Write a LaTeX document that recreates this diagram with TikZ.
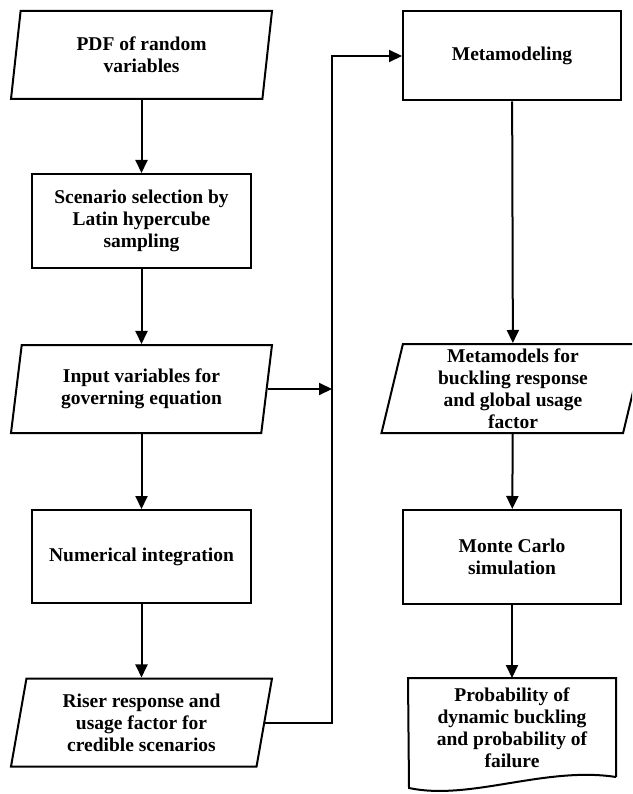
\documentclass[tikz,border=0pt]{standalone}
\usepackage{fontspec}
\setmainfont{Liberation Serif}
\usetikzlibrary{shapes.geometric,arrows.meta}

\begin{document}
\begin{tikzpicture}[x=1pt,y=-1pt,line width=2pt,
	font=\fontsize{19.5}{22}\selectfont\bfseries,
	box/.style={draw, rectangle, minimum width=219pt, minimum height=94pt, align=center, inner sep=0pt},
	io/.style={draw, trapezium, trapezium left angle=75, trapezium right angle=105, trapezium stretches body, minimum width=261pt, minimum height=88pt, align=center, inner sep=0pt},
	arr/.style={arrows={-{Triangle[length=13pt,width=12pt]}}}]
	\clip (0,0) rectangle (632,794);
	\node [io] (pdf) at (141.5,55) {PDF of random\\variables};
	\node [box] (sel) at (141.5,221) {Scenario selection by\\Latin hypercube\\sampling};
	\node [io] (inp) at (141.5,389) {Input variables for\\governing equation};
	\node [box, minimum height=93pt] (num) at (141.5,556.5) {Numerical integration};
	\node [io] (res) at (141.5,722.5) {Riser response and\\usage factor for\\credible scenarios};
	\node [box, minimum width=218pt, minimum height=89pt] (meta) at (512,56) {Metamodeling};
	\node [io, minimum width=263pt, minimum height=89pt] (mm) at (513,388.5) {Metamodels for\\buckling response\\and global usage\\factor};
	\node [box, minimum width=218pt] (mc) at (512,557) {Monte Carlo\\simulation};
	\node [align=center, minimum width=206pt, minimum height=97pt, inner sep=0pt] (prob) at (512,727.5) {Probability of\\dynamic buckling\\and probability of\\failure};
	\draw (prob.south east) -- (prob.north east) -- (prob.north west) -- (409,788) .. controls (470,801) and (545,766) .. (prob.south east);
	\coordinate (bus) at (332,0);
	\draw [arr] (pdf) -- (sel);
	\draw [arr] (sel) -- (inp);
	\draw [arr] (inp) -- (num);
	\draw [arr] (num) -- (res);
	\draw [arr] (inp.east) -- (inp.east -| bus);
	\draw [arr] (res.east) -- (res.east -| bus) |- (meta.west);
	\draw [arr] (meta) -- (mm);
	\draw [arr] (mm) -- (mc);
	\draw [arr] (mc) -- (prob);
\end{tikzpicture}
\end{document}
